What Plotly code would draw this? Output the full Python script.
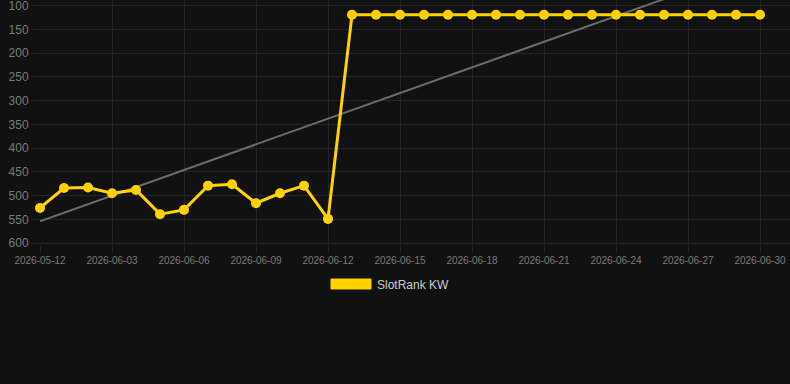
import plotly.graph_objects as go

series_name = "SlotRank KW"
dates = ["2026-05-12", "2026-06-01", "2026-06-02"] + [f"2026-06-{d:02d}" for d in range(3, 31)]
rank = [526, 484, 483, 495, 488, 539, 530, 479, 476, 516, 495, 479, 549] + [119] * 18
trend = [554 - 18 * i for i in range(len(dates))]
y_ticks = [100, 150, 200, 250, 300, 350, 400, 450, 500, 550, 600]

idx = list(range(len(dates)))
fig = go.Figure()
fig.add_trace(go.Scatter(
    x=idx, y=trend, mode="lines",
    line=dict(color="#6b6b6b", width=2), showlegend=False, hoverinfo="skip",
))
fig.add_trace(go.Scatter(
    x=idx, y=rank, mode="lines+markers", name=series_name,
    line=dict(color="#FFD200", width=3),
    marker=dict(color="#FFD200", size=10),
    cliponaxis=False, showlegend=False,
))

grid = "#242424"
fig.update_layout(
    width=790, height=384,
    margin=dict(l=40, r=0, t=0, b=139),
    paper_bgcolor="#111111", plot_bgcolor="#111111",
    font=dict(family="Liberation Sans, Arial, sans-serif", color="#7a7a7a"),
    showlegend=False,
    xaxis=dict(
        range=[0, 31.25], tickmode="array",
        tickvals=idx[::3], ticktext=dates[::3],
        showgrid=True, gridcolor=grid, gridwidth=1,
        ticks="outside", ticklen=6, tickcolor=grid,
        tickfont=dict(size=10, color="#7a7a7a"),
        ticklabeloverflow="allow",
        zeroline=False, showline=False,
    ),
    yaxis=dict(
        range=[604, 88], tickmode="array", tickvals=y_ticks,
        showgrid=True, gridcolor=grid, gridwidth=1,
        ticks="outside", ticklen=8, tickcolor=grid,
        tickfont=dict(size=12, color="#7a7a7a"),
        ticklabeloverflow="allow",
        zeroline=False, showline=False,
    ),
    shapes=[dict(type="rect", xref="paper", yref="paper",
                 x0=(331 - 40) / 750, x1=(371 - 40) / 750,
                 y0=-(279 - 245) / 245, y1=-(289 - 245) / 245,
                 fillcolor="#FFD200", line=dict(width=1, color="#FFD200"))],
    annotations=[dict(text=series_name, xref="paper", yref="paper",
                      x=(375 - 40) / 750, y=-(284.5 - 245) / 245,
                      xanchor="left", yanchor="middle", showarrow=False,
                      font=dict(size=12, color="#cccccc"))],
)
fig.write_html("out.html")
